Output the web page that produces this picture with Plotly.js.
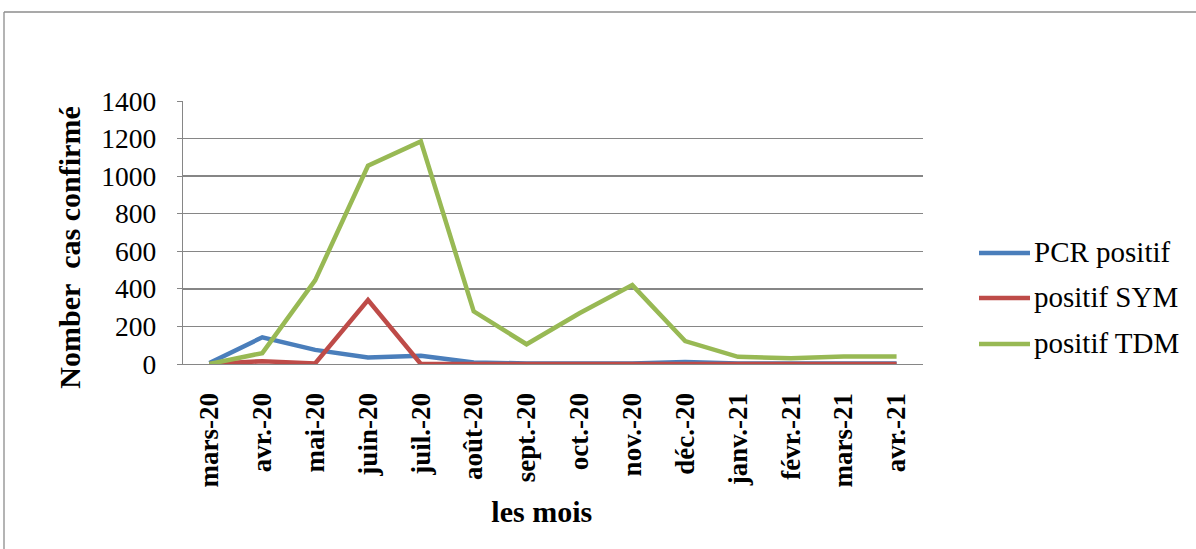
<!DOCTYPE html>
<html>
<head>
<meta charset="utf-8">
<script src="https://cdn.plot.ly/plotly-3.0.1.min.js"></script>
<style>
html,body{margin:0;padding:0;background:#fff;}
#chart{width:1196px;height:549px;}
</style>
</head>
<body>
<div id="chart"></div>
<script>
var months = ["mars-20","avr.-20","mai-20","juin-20","juil.-20","août-20","sept.-20","oct.-20","nov.-20","déc.-20","janv.-21","févr.-21","mars-21","avr.-21"];
var pcrPositif = [5, 142, 75, 35, 44, 8, 3, 2, 3, 10, 2, 2, 2, 2];
var positifSym = [0, 15, 3, 340, 0, 0, 0, 0, 0, 0, 0, 0, 0, 0];
var positifTdm = [0, 58, 445, 1055, 1185, 280, 105, 270, 420, 122, 38, 30, 40, 40];
var seriesNames = ["PCR positif", "positif SYM", "positif TDM"];
var yTicks = [0, 200, 400, 600, 800, 1000, 1200, 1400];

var colors = ["#4A7EBB", "#BE4B48", "#98B954"];
var font = "Liberation Serif";
var allSeries = [pcrPositif, positifSym, positifTdm];
var traces = allSeries.map(function(vals, i){
  return {
    x: months, y: vals, type: "scatter", mode: "lines",
    name: seriesNames[i],
    line: {color: colors[i], width: 4.5, shape: "linear"}
  };
});

var L = 183, R = 923, T = 101, B = 364, W = 1196, H = 549;
var pw = R - L, ph = B - T;
function px(x){ return (x - L) / pw; }
function py(y){ return (B - y) / ph; }
var pad = "\u00A0\u00A0\u00A0\u00A0";

var shapes = [
  {type: "line", xref: "paper", yref: "paper", x0: px(4), y0: py(12), x1: px(W + 10), y1: py(12), line: {color: "#8c8c8c", width: 1.3}},
  {type: "line", xref: "paper", yref: "paper", x0: px(4), y0: py(12), x1: px(4), y1: py(H + 10), line: {color: "#8c8c8c", width: 1.3}}
];
var annotations = [];
var legendRows = [253, 298, 344];
seriesNames.forEach(function(n, i){
  shapes.push({type: "line", xref: "paper", yref: "paper", x0: px(979), x1: px(1030), y0: py(legendRows[i]), y1: py(legendRows[i]),
    line: {color: colors[i], width: 4.5}});
  annotations.push({xref: "paper", yref: "paper", x: px(1032), y: py(legendRows[i] - 1), xanchor: "left", yanchor: "middle",
    showarrow: false, text: n, font: {family: font, size: 29, color: "#000"}});
});

var layout = {
  width: W, height: H,
  margin: {l: L, r: W - R, t: T, b: H - B, autoexpand: false},
  paper_bgcolor: "#fff", plot_bgcolor: "#fff",
  font: {family: font, color: "#000", size: 26},
  showlegend: false,
  xaxis: {
    type: "category", range: [-0.5, 13.5],
    showgrid: false, showline: true, linecolor: "#868686", linewidth: 1.3,
    ticks: "", tickangle: -90,
    tickfont: {family: font, size: 27, color: "#000", weight: "bold"},
    ticklabelstandoff: 17,
    title: {text: "<b>les mois\u00A0\u00A0\u00A0</b>", font: {family: font, size: 30, color: "#000"}, standoff: 14},
    automargin: false, zeroline: false
  },
  yaxis: {
    range: [0, 1400], tickvals: yTicks, ticktext: yTicks.map(String),
    showgrid: true, gridcolor: "#868686", gridwidth: 1.3,
    showline: true, linecolor: "#868686", linewidth: 1.3,
    ticks: "outside", ticklen: 5, tickcolor: "#868686",
    tickfont: {family: font, size: 27.5, color: "#000"},
    ticklabelstandoff: 15,
    title: {text: "<b>Nomber\u00A0 cas confirmé" + pad + "</b>", font: {family: font, size: 30, color: "#000"}, standoff: 11},
    automargin: false, zeroline: false
  },
  shapes: shapes,
  annotations: annotations
};

Plotly.newPlot("chart", traces, layout, {displayModeBar: false, staticPlot: true});
</script>
</body>
</html>
